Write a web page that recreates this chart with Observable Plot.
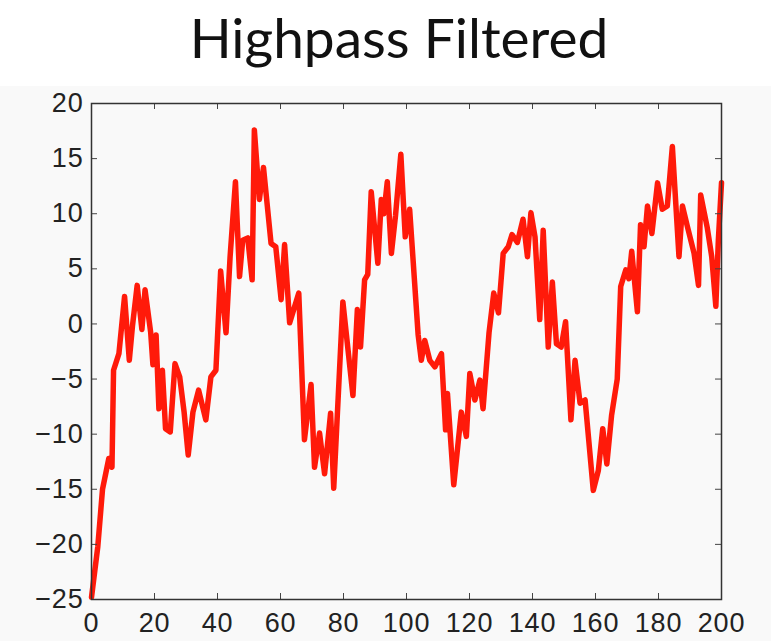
<!DOCTYPE html>
<html>
<head>
<meta charset="utf-8">
<script src="https://cdn.jsdelivr.net/npm/d3@7"></script>
<script src="https://cdn.jsdelivr.net/npm/@observablehq/plot@0.6"></script>
<style>
  html, body { margin: 0; padding: 0; background: #ffffff; }
  #wrap { position: relative; width: 771px; height: 641px; overflow: hidden; }
  #title { position: absolute; left: 27px; width: 744px; top: 9px; text-align: center;
           font-family: Lato, "Open Sans", sans-serif; font-size: 55px; line-height: 56px; color: #111; }
  #chart { position: absolute; left: 0; top: 86px; }
  #chart svg text { letter-spacing: 0.8px; }
</style>
</head>
<body>
<div id="wrap">
  <div id="title">Highpass Filtered</div>
  <div id="chart"></div>
</div>
<script>
const titleText = "Highpass Filtered";
const sampleX = [0, 2, 3.5, 5.5, 6.5, 7, 8.7, 10.5, 12, 13, 14.5, 16, 17, 18.8, 19.5, 20.5, 21.4, 22.5, 23.5, 25,
  26.5, 28, 29.4, 30.7, 32.2, 34, 36.3, 37.9, 39.5, 41, 42.7, 44, 45.7, 47, 48, 49.6, 51, 51.7, 53.3, 54.6,
  57, 58.5, 60.2, 61.3, 62.9, 65.8, 67.6, 69.7, 70.8, 72.4, 74, 75.9, 76.9, 79.8, 83, 84.4, 85.4, 86.7, 87.7, 88.8,
  90.9, 92, 92.8, 93.9, 95.2, 96.5, 98.2, 99.6, 101, 103.7, 104.7, 105.8, 107.4, 109, 111.1, 112.4, 113, 115, 117.4, 119,
  120.1, 121.7, 123.3, 124.3, 126.2, 127.7, 129.2, 130.7, 132.3, 133.5, 135.2, 137, 138.4, 139.5, 140.8, 142.3, 143.4, 145, 146.3, 147.6,
  149.1, 150.5, 152.2, 153.5, 155.1, 156.7, 159.3, 160.9, 162.3, 163.6, 165.1, 166.9, 168, 169.6, 170.6, 171.5, 173.3, 174.3, 175.4, 176.5,
  177.9, 179.7, 181.2, 182.8, 184.4, 186.5, 187.6, 189.2, 191.3, 192.7, 193.4, 195.5, 196.9, 198.2, 199, 200];
const filteredValue = [-24.8, -20.2, -15, -12.2, -13, -4.2, -2.7, 2.5, -3.3, -0.2, 3.5, -0.5, 3.1, -0.8, -3.7, -1, -7.7, -4.2, -9.5, -9.8,
  -3.6, -4.8, -8, -11.9, -8, -6, -8.7, -4.8, -4.2, 4.8, -0.8, 6.1, 12.9, 4.3, 7.6, 7.8, 4, 17.6, 11.3, 14.2,
  7.3, 7, 2.2, 7.2, 0.1, 2.8, -10.5, -5.5, -13, -9.9, -13.6, -8.1, -14.9, 2, -6.5, 1.3, -2.1, 4, 4.5, 12,
  5.5, 11.3, 10, 12.9, 6.4, 9.8, 15.4, 7.9, 10.4, -1, -3.3, -1.5, -3.3, -3.9, -2.7, -9.6, -6.3, -14.6, -8, -10.2,
  -4.5, -6.9, -5.1, -7.7, -0.8, 2.8, 1, 6.4, 7, 8.1, 7.4, 9.5, 6.1, 10.1, 7.9, 0.4, 8.5, -2.1, 3.8, -1.8,
  -2.1, 0.2, -8.7, -3.3, -7.2, -6.9, -15.1, -13.3, -9.5, -12.7, -8.3, -5, 3.4, 4.9, 4.1, 6.6, 1.1, 9, 7, 10.7,
  8.2, 12.8, 10.4, 10.7, 16.1, 6.1, 10.7, 8.8, 6.4, 3.5, 11.7, 8.7, 6.1, 1.6, 7.6, 12.8];
const xTicks = [0, 20, 40, 60, 80, 100, 120, 140, 160, 180, 200];
const yTicks = [-25, -20, -15, -10, -5, 0, 5, 10, 15, 20];

const data = sampleX.map((x, i) => ({x, y: filteredValue[i]}));
document.getElementById("title").textContent = titleText;

const W = 771, H = 555;
const mL = 91, mR = 50, mT = 17, mB = 42;
const plotW = W - mL - mR, plotH = H - mT - mB;
const tl = 6;

const chart = Plot.plot({
  width: W, height: H,
  marginLeft: mL, marginRight: mR, marginTop: mT, marginBottom: mB,
  style: {background: "#f9f9f9", fontFamily: "'Liberation Sans', Arial, sans-serif", fontSize: "27px", color: "#222"},
  x: {domain: [0, 200], ticks: xTicks},
  y: {domain: [-25, 20], ticks: yTicks},
  marks: [
    Plot.line(data, {x: "x", y: "y", stroke: "#ff1a0a", strokeWidth: 5.5, strokeLinejoin: "round", strokeLinecap: "round"}),
    Plot.tickX(xTicks, {x: d => d, stroke: "#444", strokeWidth: 1, insetTop: plotH - tl}),
    Plot.tickX(xTicks, {x: d => d, stroke: "#444", strokeWidth: 1, insetBottom: plotH - tl}),
    Plot.tickY(yTicks, {y: d => d, stroke: "#444", strokeWidth: 1, insetRight: plotW - tl}),
    Plot.tickY(yTicks, {y: d => d, stroke: "#444", strokeWidth: 1, insetLeft: plotW - tl}),
    Plot.frame({stroke: "#333", strokeWidth: 1.5}),
    Plot.axisX(xTicks, {tickSize: 0, tickPadding: 13, label: null, fill: "#222", fontSize: 27}),
    Plot.axisY(yTicks, {tickSize: 0, tickPadding: 8, label: null, fill: "#222", fontSize: 27, tickFormat: d => d < 0 ? "\u2212" + Math.abs(d) : String(d)})
  ]
});
document.getElementById("chart").appendChild(chart);
</script>
</body>
</html>
